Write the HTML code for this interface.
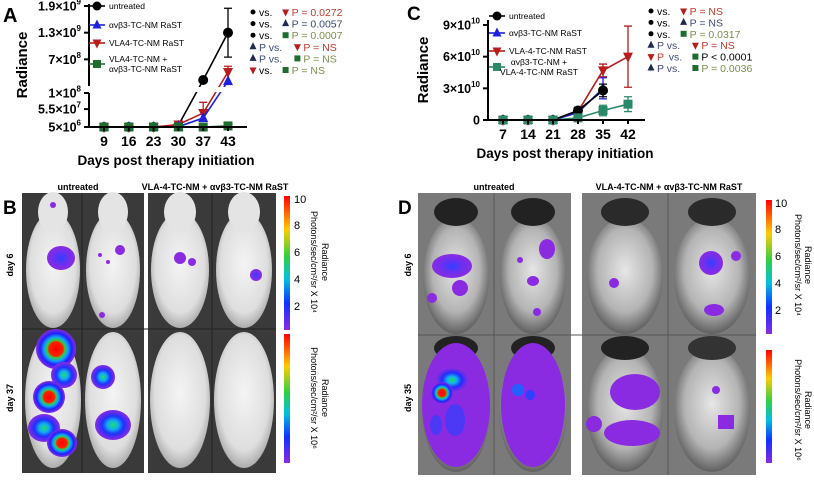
<!DOCTYPE html>
<html><head><meta charset="utf-8">
<style>
html,body{margin:0;padding:0;background:#fff;}
svg{display:block;font-family:"Liberation Sans",Arial,sans-serif;}
.b{font-weight:bold;}
</style></head>
<body>
<svg id="fig" width="814" height="484" viewBox="0 0 814 484">
<defs>
 <radialGradient id="mouseB" cx="50%" cy="45%" r="60%"><stop offset="0" stop-color="#f4f4f4"/><stop offset="0.7" stop-color="#dedede"/><stop offset="1" stop-color="#9a9a9a"/></radialGradient>
 <radialGradient id="mouseD" cx="50%" cy="45%" r="60%"><stop offset="0" stop-color="#e6e6e6"/><stop offset="0.6" stop-color="#b4b4b4"/><stop offset="1" stop-color="#4a4a4a"/></radialGradient>
 <radialGradient id="hot"><stop offset="0" stop-color="#ff0000"/><stop offset="0.35" stop-color="#ff2000"/><stop offset="0.45" stop-color="#30d040"/><stop offset="0.6" stop-color="#10a0ff"/><stop offset="0.78" stop-color="#2020ff"/><stop offset="1" stop-color="#8a2be2"/></radialGradient>
 <radialGradient id="cool"><stop offset="0" stop-color="#20e060"/><stop offset="0.3" stop-color="#10b0f0"/><stop offset="0.6" stop-color="#2030ff"/><stop offset="1" stop-color="#8a2be2"/></radialGradient>
 <radialGradient id="purp"><stop offset="0" stop-color="#3040ff"/><stop offset="0.5" stop-color="#6a30f0"/><stop offset="1" stop-color="#8a2be2"/></radialGradient>
 <linearGradient id="cbar" x1="0" y1="0" x2="0" y2="1"><stop offset="0" stop-color="#ff0000"/><stop offset="0.25" stop-color="#ffcc00"/><stop offset="0.45" stop-color="#30d040"/><stop offset="0.62" stop-color="#00c0e0"/><stop offset="0.8" stop-color="#1030ff"/><stop offset="1" stop-color="#8a2be2"/></linearGradient>
</defs>

<text x="3" y="22" class="b" font-size="20">A</text>
<text x="407" y="20" class="b" font-size="19">C</text>
<text x="3" y="214" class="b" font-size="19">B</text>
<text x="398" y="214" class="b" font-size="19">D</text>

<g id="chartA"></g>
<g id="chartC"></g>

<!-- Panel B images -->
<g>
 <text x="78" y="190" class="b" font-size="9" text-anchor="middle">untreated</text>
 <text x="215" y="190" class="b" font-size="9" text-anchor="middle">VLA-4-TC-NM + αvβ3-TC-NM RaST</text>
 <text transform="translate(13,265) rotate(-90)" class="b" font-size="9" text-anchor="middle">day  6</text>
 <text transform="translate(13,398) rotate(-90)" class="b" font-size="9" text-anchor="middle">day 37</text>
 <rect x="22" y="193" width="122" height="280" fill="#3a3a3a"/>
 <rect x="148" y="193" width="128" height="280" fill="#3a3a3a"/>
 <line x1="82" y1="193" x2="82" y2="473" stroke="#222"/><line x1="212" y1="193" x2="212" y2="473" stroke="#222"/>
 <line x1="22" y1="329" x2="276" y2="329" stroke="#222"/>
 <g><ellipse cx="53" cy="270" rx="27" ry="58" fill="url(#mouseB)"/><ellipse cx="53" cy="212" rx="15" ry="20" fill="#e4e4e4"/></g>
 <g><ellipse cx="113" cy="270" rx="27" ry="58" fill="url(#mouseB)"/><ellipse cx="113" cy="212" rx="15" ry="20" fill="#e4e4e4"/></g>
 <g><ellipse cx="180" cy="270" rx="29" ry="58" fill="url(#mouseB)"/><ellipse cx="180" cy="212" rx="16" ry="20" fill="#e4e4e4"/></g>
 <g><ellipse cx="244" cy="270" rx="28" ry="58" fill="url(#mouseB)"/><ellipse cx="244" cy="212" rx="16" ry="20" fill="#e4e4e4"/></g>
 <ellipse cx="61" cy="258" rx="14" ry="12" fill="url(#purp)"/>
 <circle cx="53" cy="205" r="3" fill="#8a2be2"/><circle cx="100" cy="255" r="2" fill="#8a2be2"/><circle cx="120" cy="250" r="5" fill="#8a2be2"/><circle cx="108" cy="262" r="2" fill="#8a2be2"/><circle cx="102" cy="315" r="3" fill="#8a2be2"/>
 <circle cx="180" cy="258" r="6" fill="#8a2be2"/><circle cx="192" cy="262" r="4" fill="#8a2be2"/><circle cx="256" cy="275" r="6" fill="url(#purp)"/>
 <g><ellipse cx="53" cy="400" rx="28" ry="68" fill="url(#mouseB)"/></g>
 <g><ellipse cx="113" cy="400" rx="28" ry="68" fill="url(#mouseB)"/></g>
 <g><ellipse cx="180" cy="400" rx="30" ry="68" fill="url(#mouseB)"/></g>
 <g><ellipse cx="244" cy="400" rx="30" ry="68" fill="url(#mouseB)"/></g>
 <g>
  <circle cx="56" cy="349" r="20" fill="url(#hot)"/><circle cx="64" cy="375" r="13" fill="url(#cool)"/>
  <circle cx="49" cy="397" r="16" fill="url(#hot)"/><ellipse cx="44" cy="428" rx="16" ry="14" fill="url(#cool)"/><ellipse cx="62" cy="443" rx="15" ry="14" fill="url(#hot)"/>
  <circle cx="103" cy="377" r="12" fill="url(#cool)"/><ellipse cx="113" cy="425" rx="18" ry="15" fill="url(#cool)"/>
 </g>
 <rect x="284" y="196" width="6" height="134" fill="url(#cbar)"/>
 <rect x="284" y="334" width="6" height="129" fill="url(#cbar)"/>
 <g font-size="11"><text x="294" y="203">10</text><text x="294" y="229">8</text><text x="294" y="256">6</text><text x="294" y="283">4</text><text x="294" y="310">2</text></g>
 <text transform="translate(322,262) rotate(90)" font-size="9" text-anchor="middle">Radiance</text>
 <text transform="translate(311,262) rotate(90)" font-size="9" text-anchor="middle">Photons/sec/cm²/sr X 10⁴</text>
 <text transform="translate(322,398) rotate(90)" font-size="9" text-anchor="middle">Radiance</text>
 <text transform="translate(311,398) rotate(90)" font-size="9" text-anchor="middle">Photons/sec/cm²/sr X 10⁶</text>
</g>

<!-- Panel D images -->
<g>
 <text x="494" y="190" class="b" font-size="9" text-anchor="middle">untreated</text>
 <text x="669" y="190" class="b" font-size="9" text-anchor="middle">VLA-4-TC-NM + αvβ3-TC-NM RaST</text>
 <text transform="translate(411,265) rotate(-90)" class="b" font-size="9" text-anchor="middle">day 6</text>
 <text transform="translate(411,398) rotate(-90)" class="b" font-size="9" text-anchor="middle">day 35</text>
 <rect x="418" y="193" width="153" height="282" fill="#7a7a7a"/>
 <rect x="582" y="193" width="174" height="282" fill="#7a7a7a"/>
 <line x1="494" y1="193" x2="494" y2="475" stroke="#555"/><line x1="668" y1="193" x2="668" y2="475" stroke="#555"/>
 <line x1="418" y1="335" x2="756" y2="335" stroke="#555"/>
 <g>
  <ellipse cx="456" cy="276" rx="33" ry="58" fill="url(#mouseD)"/><ellipse cx="456" cy="212" rx="22" ry="14" fill="#222"/>
  <ellipse cx="533" cy="276" rx="33" ry="58" fill="url(#mouseD)"/><ellipse cx="533" cy="212" rx="22" ry="14" fill="#222"/>
  <ellipse cx="625" cy="276" rx="38" ry="58" fill="url(#mouseD)"/><ellipse cx="625" cy="212" rx="24" ry="14" fill="#2a2a2a"/>
  <ellipse cx="712" cy="276" rx="38" ry="58" fill="url(#mouseD)"/><ellipse cx="712" cy="212" rx="24" ry="14" fill="#2a2a2a"/>
  <ellipse cx="456" cy="410" rx="34" ry="62" fill="url(#mouseD)"/><ellipse cx="456" cy="348" rx="22" ry="12" fill="#222"/>
  <ellipse cx="533" cy="410" rx="34" ry="62" fill="url(#mouseD)"/><ellipse cx="533" cy="348" rx="22" ry="12" fill="#222"/>
  <ellipse cx="625" cy="410" rx="38" ry="62" fill="url(#mouseD)"/><ellipse cx="625" cy="348" rx="24" ry="12" fill="#222"/>
  <ellipse cx="712" cy="410" rx="38" ry="62" fill="url(#mouseD)"/><ellipse cx="712" cy="348" rx="24" ry="12" fill="#333"/>
 </g>
 <g>
  <ellipse cx="452" cy="266" rx="20" ry="12" fill="url(#purp)"/><ellipse cx="460" cy="288" rx="8" ry="8" fill="#8a2be2"/><circle cx="432" cy="298" r="5" fill="#8a2be2"/>
  <ellipse cx="547" cy="249" rx="8" ry="10" fill="#8a2be2"/><ellipse cx="533" cy="281" rx="6" ry="5" fill="#8a2be2"/><circle cx="537" cy="312" r="4" fill="#8a2be2"/><circle cx="520" cy="260" r="3" fill="#8a2be2"/>
  <circle cx="614" cy="283" r="5" fill="#8a2be2"/><circle cx="711" cy="263" r="12" fill="url(#purp)"/><circle cx="736" cy="256" r="5" fill="#8a2be2"/><ellipse cx="714" cy="310" rx="10" ry="6" fill="#8a2be2"/>
 </g>
 <g>
  <ellipse cx="456" cy="405" rx="34" ry="62" fill="#8a2be2"/><ellipse cx="452" cy="380" rx="16" ry="12" fill="url(#cool)"/><circle cx="442" cy="393" r="11" fill="url(#hot)"/>
  <ellipse cx="455" cy="420" rx="10" ry="16" fill="#3040ff" opacity="0.7"/><ellipse cx="436" cy="425" rx="6" ry="10" fill="#3040ff" opacity="0.7"/>
  <ellipse cx="533" cy="405" rx="32" ry="62" fill="#8a2be2"/><circle cx="518" cy="390" r="6" fill="#2060ff"/><circle cx="530" cy="395" r="5" fill="#3040ff"/>
  <ellipse cx="635" cy="392" rx="25" ry="18" fill="#8a2be2"/><circle cx="594" cy="424" r="8" fill="#8a2be2"/><ellipse cx="632" cy="433" rx="28" ry="13" fill="#8a2be2"/>
  <circle cx="716" cy="390" r="4" fill="#8a2be2"/><rect x="718" y="415" width="16" height="14" fill="#8a2be2"/>
 </g>
 <rect x="766" y="200" width="6" height="134" fill="url(#cbar)"/>
 <rect x="766" y="350" width="6" height="113" fill="url(#cbar)"/>
 <g font-size="11"><text x="775" y="207">10</text><text x="775" y="233">8</text><text x="775" y="260">6</text><text x="775" y="287">4</text><text x="775" y="314">2</text></g>
 <text transform="translate(805,265) rotate(90)" font-size="9" text-anchor="middle">Radiance</text>
 <text transform="translate(795,265) rotate(90)" font-size="9" text-anchor="middle">Photons/sec/cm²/sr X 10⁴</text>
 <text transform="translate(805,410) rotate(90)" font-size="9" text-anchor="middle">Radiance</text>
 <text transform="translate(795,410) rotate(90)" font-size="9" text-anchor="middle">Photons/sec/cm²/sr X 10⁶</text>
</g>
</svg>

<script>
// ---------- Chart A data ----------
const daysA = [9, 16, 23, 30, 37, 43];
const untreatedA = [5e6, 5e6, 5e6, 1e7, 2.35e8, 1.3e9];
const untreatedErrA = [0, 0, 0, 0, 2e7, 5.5e8];
const avb3A = [5e6, 5e6, 5e6, 6e6, 3e7, 2.1e8];
const avb3ErrA = [0, 0, 0, 0, 0, 0];
const vla4A = [5e6, 5e6, 5e6, 1.2e7, 4.4e7, 4.15e8];
const vla4ErrA = [0, 0, 0, 0, 3e7, 1.3e8];
const comboA = [5e6, 5e6, 5e6, 5e6, 5e6, 8e6];
const comboErrA = [0, 0, 0, 0, 0, 0];
const yTickValsA = [1.9e9, 1.3e9, 7e8, 1e8, 5.5e7, 5e6];
const yTickMantA = ["1.9×10", "1.3×10", "7×10", "1×10", "5.5×10", "5×10"];
const yTickExpA = ["9", "9", "8", "8", "7", "6"];
// ---------- Chart C data ----------
const daysC = [7, 14, 21, 28, 35, 42];
const untreatedC = [0, 0, 0, 0.9e10, 2.8e10, null];
const untreatedErrC = [0, 0, 0, 0.3e10, 0.6e10, 0];
const avb3C = [0, 0, 0, 0.7e10, 3.0e10, null];
const avb3ErrC = [0, 0, 0, 0, 1.0e10, 0];
const vla4C = [0, 0, 0, 0.8e10, 4.7e10, 6.0e10];
const vla4ErrC = [0, 0, 0, 0.2e10, 0.6e10, 2.9e10];
const comboC = [0, 0, 0, 0.2e10, 0.9e10, 1.5e10];
const comboErrC = [0, 0, 0, 0.2e10, 0.5e10, 0.7e10];
const yTickValsC = [9e10, 6e10, 3e10, 0];
const yTickMantC = ["9×10", "6×10", "3×10", "0"];
const yTickExpC = ["10", "10", "10", ""];

const NS = "http://www.w3.org/2000/svg";
function mk(tag, parent, attrs) {
  const e = document.createElementNS(NS, tag);
  for (const k in attrs) e.setAttribute(k, attrs[k]);
  parent.appendChild(e);
  return e;
}
function yA(v) {
  if (v <= 1e8) return 127 - (v - 5e6) / 9.5e7 * 34;
  return 86 - (v - 1e8) / 1.8e9 * 80;
}
function xA(i) { return 104 + i * 24.8; }
function yC(v) { return 120 - v / 9e10 * 95; }
function xC(i) { return 503 + i * 25; }

function marker(g, shape, x, y, color, sz) {
  let m;
  const s = sz || 5;
  if (shape === "circle") m = mk("circle", g, {cx: x, cy: y, r: s, fill: color});
  else if (shape === "up") m = mk("polygon", g, {points: `${x},${y-s-1} ${x-s},${y+s-1} ${x+s},${y+s-1}`, fill: color});
  else if (shape === "down") m = mk("polygon", g, {points: `${x},${y+s+1} ${x-s},${y-s+1} ${x+s},${y-s+1}`, fill: color});
  else m = mk("rect", g, {x: x-s+0.5, y: y-s+0.5, width: 2*s-1, height: 2*s-1, fill: color});
  return m;
}

function drawSeries(root, name, vals, errs, color, shape, xf, yf, both) {
  const g = mk("g", root, {});
  
  
  let pts = [];
  vals.forEach((v, i) => { if (v !== null) pts.push([xf(i), yf(v)]); });
  const line = mk("polyline", g, {points: pts.map(p => p.join(",")).join(" "), fill: "none", stroke: color, "stroke-width": 1.6});
  
  
  vals.forEach((v, i) => {
    if (v === null) return;
    const e = errs[i];
    if (e > 0) {
      const x = xf(i), yt = yf(v + e), yb = both ? yf(Math.max(0, v - e)) : yf(v);
      const eb = mk("path", g, {d: `M${x},${yb}V${yt}M${x-4},${yt}H${x+4}` + (both ? `M${x-4},${yb}H${x+4}` : ""), stroke: color, "stroke-width": 1.3, fill: "none"});
      
      
    }
    const m = marker(g, shape, xf(i), yf(v), color);
    
    
  });
}

function yTicks(root, vals, mant, exps, yf, axX, name) {
  vals.forEach((v, i) => {
    const y = yf(v);
    const t = mk("line", root, {x1: axX - 5, x2: axX, y1: y, y2: y, stroke: "#000", "stroke-width": 2});
    
    
    const tx = mk("text", root, {x: axX - 8, y: y + 4.5, "text-anchor": "end", "font-size": 12.5, "font-weight": "bold"});
    
    
    tx.textContent = mant[i];
    if (exps[i]) {
      const sp = mk("tspan", tx, {dy: -6, "font-size": 8});
      sp.textContent = exps[i];
    }
  });
}
function xTicks(root, days, xf, axY, name) {
  days.forEach((d, i) => {
    const t = mk("line", root, {x1: xf(i), x2: xf(i), y1: axY, y2: axY + 4, stroke: "#000", "stroke-width": 2});
    
    
    const tx = mk("text", root, {x: xf(i), y: axY + 19, "text-anchor": "middle", "font-size": 14, "font-weight": "bold"});
    
    
    tx.textContent = d;
  });
}
function legend(root, items, x, name) {
  items.forEach(it => {
    mk("line", root, {x1: x - 8, x2: x + 8, y1: it.y, y2: it.y, stroke: it.color, "stroke-width": 1.6});
    const m = marker(root, it.shape, x, it.y, it.color, 4.5);
    
    
    it.lines.forEach((l, k) => {
      const t = mk("text", root, {x: x + 12 + (it.center ? 30 : 0), y: it.y + 3 + (k - (it.lines.length - 1) / 2) * 10, "font-size": 8.5, "text-anchor": it.center ? "middle" : "start"});
      
      
      t.textContent = l;
    });
  });
}
function stats(root, rows, x, y0, dy, name) {
  rows.forEach((r, i) => {
    const y = y0 + i * dy;
    const g = mk("g", root, {});
    
    
    let cx = x;
    r.forEach(p => {
      if (p.m) { marker(g, p.m, cx + 3, y - 4, p.c, p.m === "circle" ? 2.5 : 3.5); cx += 9; }
      else {
        const t = mk("text", g, {x: cx, y: y, "font-size": 10.5, fill: p.c});
        t.textContent = p.t;
        cx += p.t.length * 5.9;
      }
    });
  });
}

const RED = "#b81c1c", BLUE = "#1f1fe0", GRN = "#1d6e2e", GRNC = "#2a8a68", NAVY = "#1e2850", OLIVE = "#7b8c4e", REDT = "#c0392b", BLUT = "#3e4a78";

const A = document.getElementById("chartA");
drawSeries(A, "untreated-a", untreatedA, untreatedErrA, "#000", "circle", xA, yA, true);
drawSeries(A, "vla4-a", vla4A, vla4ErrA, RED, "down", xA, yA, false);
drawSeries(A, "avb3-a", avb3A, avb3ErrA, BLUE, "up", xA, yA, false);
drawSeries(A, "combo-a", comboA, comboErrA, GRN, "square", xA, yA, false);
const brk = mk("rect", A, {x: 90, y: 87, width: 160, height: 5, fill: "#fff"});


const axA = mk("path", A, {d: "M89,4V86M89,93V127H247", stroke: "#000", "stroke-width": 2, fill: "none"});


yTicks(A, yTickValsA, yTickMantA, yTickExpA, yA, 89, "a");
xTicks(A, daysA, xA, 127, "a");
const ytA = mk("text", A, {transform: "translate(27,65) rotate(-90)", "text-anchor": "middle", "font-size": 15, "font-weight": "bold"});


ytA.textContent = "Radiance";
const xtA = mk("text", A, {x: 166, y: 165, "text-anchor": "middle", "font-size": 13.5, "font-weight": "bold"});


xtA.textContent = "Days post therapy initiation";
legend(A, [
  {y: 6, color: "#000", shape: "circle", lines: ["untreated"]},
  {y: 25, color: BLUE, shape: "up", lines: ["αvβ3-TC-NM RaST"]},
  {y: 43, color: RED, shape: "down", lines: ["VLA4-TC-NM RaST"]},
  {y: 64, color: GRN, shape: "square", lines: ["VLA4-TC-NM +", "αvβ3-TC-NM RaST"]}
], 97, "a");
stats(A, [
  [{m: "circle", c: "#000"}, {t: "vs. ", c: "#000"}, {m: "down", c: RED}, {t: "P = 0.0272", c: REDT}],
  [{m: "circle", c: "#000"}, {t: "vs. ", c: "#000"}, {m: "up", c: NAVY}, {t: "P = 0.0057", c: BLUT}],
  [{m: "circle", c: "#000"}, {t: "vs. ", c: "#000"}, {m: "square", c: GRN}, {t: "P = 0.0007", c: OLIVE}],
  [{m: "up", c: NAVY}, {t: "P vs. ", c: BLUT}, {m: "down", c: RED}, {t: "P = NS", c: REDT}],
  [{m: "up", c: NAVY}, {t: "P vs. ", c: BLUT}, {m: "square", c: GRN}, {t: "P = NS", c: OLIVE}],
  [{m: "down", c: RED}, {t: "vs. ", c: "#000"}, {m: "square", c: GRN}, {t: "P = NS", c: OLIVE}]
], 250, 16, 11.6, "a");

const C = document.getElementById("chartC");
drawSeries(C, "vla4-c", vla4C, vla4ErrC, RED, "down", xC, yC, true);
drawSeries(C, "avb3-c", avb3C, avb3ErrC, BLUE, "up", xC, yC, true);
drawSeries(C, "untreated-c", untreatedC, untreatedErrC, "#000", "circle", xC, yC, true);
drawSeries(C, "combo-c", comboC, comboErrC, GRNC, "square", xC, yC, true);
const axC = mk("path", C, {d: "M488,20V120H645", stroke: "#000", "stroke-width": 2, fill: "none"});


yTicks(C, yTickValsC, yTickMantC, yTickExpC, yC, 488, "c");
xTicks(C, daysC, xC, 120, "c");
const ytC = mk("text", C, {transform: "translate(428,70) rotate(-90)", "text-anchor": "middle", "font-size": 15, "font-weight": "bold"});


ytC.textContent = "Radiance";
const xtC = mk("text", C, {x: 565, y: 158, "text-anchor": "middle", "font-size": 13.5, "font-weight": "bold"});


xtC.textContent = "Days post therapy initiation";
legend(C, [
  {y: 16, color: "#000", shape: "circle", lines: ["untreated"]},
  {y: 33, color: BLUE, shape: "up", lines: ["αvβ3-TC-NM RaST"]},
  {y: 51, color: RED, shape: "down", lines: ["VLA-4-TC-NM RaST"]},
  {y: 67, color: GRNC, shape: "square", lines: ["αvβ3-TC-NM +", "VLA-4-TC-NM RaST"], center: true}
], 497, "c");
stats(C, [
  [{m: "circle", c: "#000"}, {t: "vs. ", c: "#000"}, {m: "down", c: RED}, {t: "P = NS", c: REDT}],
  [{m: "circle", c: "#000"}, {t: "vs. ", c: "#000"}, {m: "up", c: NAVY}, {t: "P = NS", c: BLUT}],
  [{m: "circle", c: "#000"}, {t: "vs. ", c: "#000"}, {m: "square", c: GRN}, {t: "P = 0.0317", c: OLIVE}],
  [{m: "up", c: NAVY}, {t: "P vs. ", c: BLUT}, {m: "down", c: RED}, {t: "P = NS", c: REDT}],
  [{m: "down", c: RED}, {t: "P ", c: REDT}, {t: "vs. ", c: BLUT}, {m: "square", c: GRN}, {t: "P < 0.0001", c: "#000"}],
  [{m: "up", c: NAVY}, {t: "P vs. ", c: BLUT}, {m: "square", c: GRN}, {t: "P = 0.0036", c: OLIVE}]
], 648, 15, 11.4, "c");
</script>
</body></html>
